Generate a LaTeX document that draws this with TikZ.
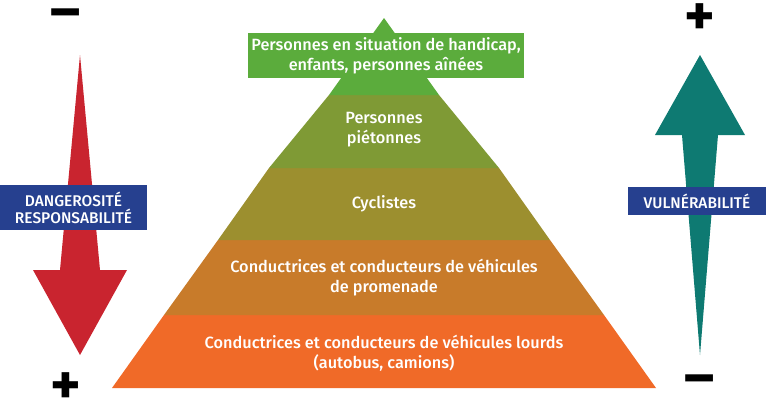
\documentclass[tikz,border=0pt]{standalone}
\usepackage{fontspec}
\setmainfont{Fira Sans}[UprightFont=* Medium,BoldFont=* Bold]
\definecolor{g1}{HTML}{5BAC3C}
\definecolor{g2}{HTML}{7F9A35}
\definecolor{g3}{HTML}{9C8F2F}
\definecolor{g4}{HTML}{C87B2A}
\definecolor{g5}{HTML}{F06A28}
\definecolor{redA}{HTML}{C9242F}
\definecolor{tealA}{HTML}{0E7A72}
\definecolor{blueB}{HTML}{26408F}
\begin{document}
\begin{tikzpicture}[x=1pt,y=-1pt,
  lbl/.style={text=white,font=\fontsize{16.3}{20}\selectfont,align=center},
  bbox/.style={fill=blueB,text=white,font=\fontsize{15.5}{17}\selectfont,align=center,inner sep=2pt},
  sign/.style={font=\fontsize{58}{58}\selectfont\bfseries,inner sep=0pt}]
\useasboundingbox (0,0) rectangle (768,408);
% pyramid bands
\fill[g5] (112,388) -- (656,388) -- (604,315) -- (164,315) -- cycle;
\fill[g4] (164,315) -- (604,315) -- (550,240) -- (218,240) -- cycle;
\fill[g3] (218,240) -- (550,240) -- (499,168) -- (269,168) -- cycle;
\fill[g2] (269,168) -- (499,168) -- (439,95) -- (329,95) -- cycle;
\fill[g1] (329,95) -- (439,95) -- (384,18) -- cycle;
\fill[g1] (248,33) rectangle (524,78);
\node[lbl] (t1) at (386,56) {Personnes en situation de handicap,\\enfants, personnes aînées};
\node[lbl] (t2) at (384,130) {Personnes\\piétonnes};
\node[lbl] (t3) at (384,204) {Cyclistes};
\node[lbl] (t4) at (384,278) {Conductrices et conducteurs de véhicules\\de promenade};
\node[lbl] (t5) at (384,353) {Conductrices et conducteurs de véhicules lourds\\(autobus, camions)};
% arrows
\fill[redA] (80,55) -- (100,270) -- (127,270) -- (80,355) -- (33,270) -- (60,270) -- cycle;
\fill[tealA] (700,55) -- (745,135) -- (718,135) -- (700,355) -- (682,135) -- (655,135) -- cycle;
\node[bbox,minimum width=147pt,minimum height=45pt] (b1) at (73.5,207.5) {DANGEROSITÉ\\RESPONSABILITÉ};
\node[bbox,minimum width=138pt,minimum height=28pt] (b2) at (697,201) {VULNÉRABILITÉ};
\node[sign] (s1) at (66,20) {–};
\node[sign] (s2) at (66,389) {+};
\node[sign] (s3) at (700,20) {+};
\node[sign] (s4) at (700,386) {–};
\end{tikzpicture}
\end{document}
